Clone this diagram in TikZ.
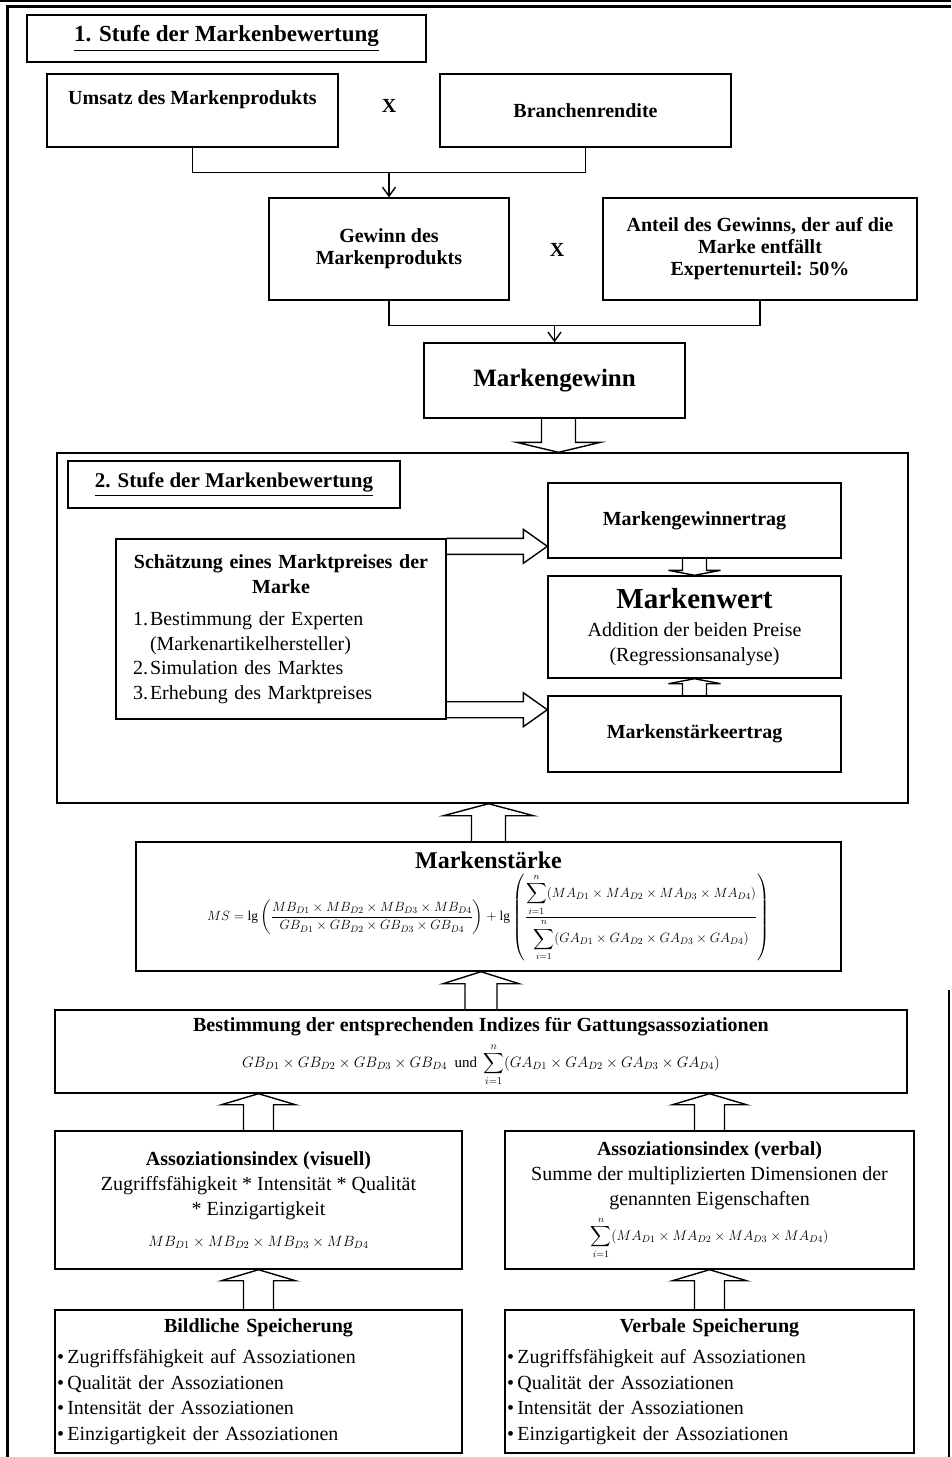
\RequirePackage{fix-cm}
\documentclass[tikz,border=0pt]{standalone}
\usepackage{amsmath}
\usepackage{fontspec}
\setmainfont{Liberation Serif}
\usetikzlibrary{calc,arrows.meta}

% hollow block arrows: from, to, shaft half width, head half width, head length
\newcommand{\vblock}[5]{%
  \draw[hollow] let \p1=#1, \p2=#2, \n1={sign(\y2-\y1)} in
    (\x1-#3,\y1) -- (\x1-#3,\y2-\n1*#5) -- (\x1-#4,\y2-\n1*#5) -- (\x1,\y2)
    -- (\x1+#4,\y2-\n1*#5) -- (\x1+#3,\y2-\n1*#5) -- (\x1+#3,\y1);
}
\newcommand{\hblock}[5]{%
  \draw[hollow] let \p1=#1, \p2=#2, \n1={sign(\x2-\x1)} in
    (\x1,\y1-#3) -- (\x2-\n1*#5,\y1-#3) -- (\x2-\n1*#5,\y1-#4) -- (\x2,\y1)
    -- (\x2-\n1*#5,\y1+#4) -- (\x2-\n1*#5,\y1+#3) -- (\x1,\y1+#3);
}

\begin{document}
\begin{tikzpicture}[
        x=1pt, y=-1pt,
        >={Straight Barb[length=9pt,width=13pt]},
        font=\fontsize{20}{23}\selectfont,
        box/.style={
            rectangle,
            draw,
            line width=1.4pt,
            align=center,
            inner sep=2pt
        },
        bold/.style={font=\fontsize{20}{22}\selectfont\bfseries},
        wide/.style={font=\fontsize{20}{25}\selectfont},
        hollow/.style={draw, line width=1.4pt, line join=miter},
        conn/.style={line width=1.4pt}
    ]

    \useasboundingbox (0,0) rectangle (951,1457);

    % Frame
    \draw[line width=1.2pt] (0,1) -- (951,1);
    \draw[line width=3pt] (7,1457) -- (7,6.5) -- (951,6.5);
    \draw[line width=2.5pt] (949,990) -- (949,1457);

    % ---------- 1. Stufe ----------
    \node[box, font=\fontsize{23}{25}\selectfont\bfseries, minimum width=399pt, minimum height=47pt] (stufe1) at (226.5,38.5)
        {\underline{1. Stufe der Markenbewertung}};

    \node[box, bold, minimum width=291pt, inner ysep=0pt, text height=30pt, text depth=43pt] (umsatz) at (192.5,110.5)
        {Umsatz des Markenprodukts};
    \node[bold] (mal1) at (389,106) {X};
    \node[box, bold, minimum width=291pt, minimum height=73pt] (rendite) at (585.5,110.5) {Branchenrendite};

    \node[box, bold, minimum width=240pt, minimum height=102pt] (gewinn) at (389,249)
        {Gewinn des\\Markenprodukts};
    \node[bold] (mal2) at (557,250) {X};
    \node[box, bold, minimum width=314pt, minimum height=102pt] (anteil) at (760,249)
        {Anteil des Gewinns, der auf die\\Marke entfällt\\Expertenurteil: 50\%};

    \node[box, font=\fontsize{25}{27}\selectfont\bfseries, minimum width=261pt, minimum height=75pt] (mgewinn) at (554.5,380.5)
        {Markengewinn};

    \draw[conn] (umsatz.south) -- ++(0,25) coordinate (j1) -| (rendite.south);
    \draw[conn,->] (j1 -| gewinn.north) -- (gewinn.north);
    \draw[conn] (gewinn.south) -- ++(0,25) coordinate (j2) -| (anteil.south);
    \draw[conn,->] (j2 -| mgewinn.north) -- (mgewinn.north);

    % ---------- 2. Stufe ----------
    \node[box, minimum width=851pt, minimum height=350pt] (stufe2) at (482.5,628) {};
    \node[box, font=\fontsize{21}{23}\selectfont\bfseries, minimum width=332pt, minimum height=47pt] (titel2) at (234,484.5)
        {\underline{2. Stufe der Markenbewertung}};

    \node[box, bold, minimum width=293pt, minimum height=75pt] (mgertrag) at (694.5,520.5) {Markengewinnertrag};
    \node[box, wide, minimum width=293pt, minimum height=102pt] (markenwert) at (694.5,627)
        {{\fontsize{29}{31}\selectfont\bfseries Markenwert}\\[3pt]Addition der beiden Preise\\(Regressionsanalyse)};
    \node[box, bold, minimum width=293pt, minimum height=76pt] (mstertrag) at (694.5,734) {Markenstärkeertrag};

    \node[box, minimum width=330pt, minimum height=180pt, text width=296pt, inner xsep=17pt, align=left,
          font=\fontsize{20}{24.5}\selectfont] (schaetzung) at (281,629)
        {{\centering\bfseries Schätzung eines Marktpreises der\par Marke\par}\vspace{8pt}%
         \makebox[17pt][l]{1.}Bestimmung der Experten\par
         \makebox[17pt][l]{}(Markenartikelhersteller)\par
         \makebox[17pt][l]{2.}Simulation des Marktes\par
         \makebox[17pt][l]{3.}Erhebung des Marktpreises};

    \vblock{($(mgewinn.south)+(4,0)$)}{($(mgewinn.south |- stufe2.north)+(4,0)$)}{17}{42}{10}
    \hblock{($(schaetzung.north east)+(0,8)$)}{(mgertrag.west)}{8}{17}{24}
    \hblock{($(schaetzung.south east)+(0,-10)$)}{(mstertrag.west)}{8}{17}{24}
    \vblock{(mgertrag.south)}{(markenwert.north)}{12}{26}{5}
    \vblock{(mstertrag.north)}{(markenwert.south)}{12}{26}{5}

    % ---------- Markenstaerke ----------
    \node[box, minimum width=705pt, minimum height=129pt, inner sep=1pt] (staerke) at (488.5,906.5)
        {{\fontsize{24}{26}\selectfont\bfseries Markenst\"arke}\\[4pt]
         {\fontsize{13.4}{15}\selectfont $\displaystyle MS=\lg\left(\frac{MB_{D1}\times MB_{D2}\times MB_{D3}\times MB_{D4}}{GB_{D1}\times GB_{D2}\times GB_{D3}\times GB_{D4}}\right)+\lg\left(\frac{\displaystyle\sum_{i=1}^{n}(MA_{D1}\times MA_{D2}\times MA_{D3}\times MA_{D4})}{\displaystyle\sum_{i=1}^{n}(GA_{D1}\times GA_{D2}\times GA_{D3}\times GA_{D4})}\right)$}};

    \vblock{(staerke.north)}{(staerke.north |- stufe2.south)}{17}{45}{12}

    % ---------- Indizes ----------
    \node[box, minimum width=852pt, minimum height=83pt, inner sep=1pt] (bestimmung) at (481,1051.5)
        {{\bfseries Bestimmung der entsprechenden Indizes für Gattungsassoziationen}\\[7pt]
         {\fontsize{15}{17}\selectfont $\displaystyle GB_{D1}\times GB_{D2}\times GB_{D3}\times GB_{D4}\ \ \text{und}\ \sum_{i=1}^{n}(GA_{D1}\times GA_{D2}\times GA_{D3}\times GA_{D4})$}};

    \vblock{(bestimmung.north)}{(bestimmung.north |- staerke.south)}{16}{38}{12}

    \node[box, wide, minimum width=407pt, minimum height=138pt] (visuell) at (258.5,1200)
        {{\bfseries Assoziationsindex (visuell)}\\
         Zugriffsfähigkeit * Intensität * Qualität\\
         * Einzigartigkeit\\[6pt]
         {\fontsize{14.9}{17}\selectfont $MB_{D1}\times MB_{D2}\times MB_{D3}\times MB_{D4}$}};
    \node[box, wide, minimum width=409pt, minimum height=138pt, inner sep=1pt] (verbal) at (709.5,1200)
        {{\bfseries Assoziationsindex (verbal)}\\
         Summe der multiplizierten Dimensionen der\\
         genannten Eigenschaften\\[6pt]
         {\fontsize{13.9}{15}\selectfont $\displaystyle\sum_{i=1}^{n}(MA_{D1}\times MA_{D2}\times MA_{D3}\times MA_{D4})$}};

    \vblock{(visuell.north)}{(visuell.north |- bestimmung.south)}{15}{37}{11}
    \vblock{(verbal.north)}{(verbal.north |- bestimmung.south)}{15}{37}{11}

    % ---------- Speicherung ----------
    \node[box, minimum width=407pt, minimum height=143pt, text width=403pt, align=left,
          font=\fontsize{20}{25.5}\selectfont] (bildlich) at (258.5,1381.5)
        {{\centering\bfseries Bildliche Speicherung\par}\vspace{6pt}%
         \textbullet\,Zugriffsfähigkeit auf Assoziationen\par
         \textbullet\,Qualität der Assoziationen\par
         \textbullet\,Intensität der Assoziationen\par
         \textbullet\,Einzigartigkeit der Assoziationen};
    \node[box, minimum width=409pt, minimum height=143pt, text width=405pt, align=left,
          font=\fontsize{20}{25.5}\selectfont] (verbale) at (709.5,1381.5)
        {{\centering\bfseries Verbale Speicherung\par}\vspace{6pt}%
         \textbullet\,Zugriffsfähigkeit auf Assoziationen\par
         \textbullet\,Qualität der Assoziationen\par
         \textbullet\,Intensität der Assoziationen\par
         \textbullet\,Einzigartigkeit der Assoziationen};

    \vblock{(bildlich.north)}{(visuell.south)}{15}{37}{11}
    \vblock{(verbale.north)}{(verbal.south)}{15}{37}{11}

\end{tikzpicture}
\end{document}
